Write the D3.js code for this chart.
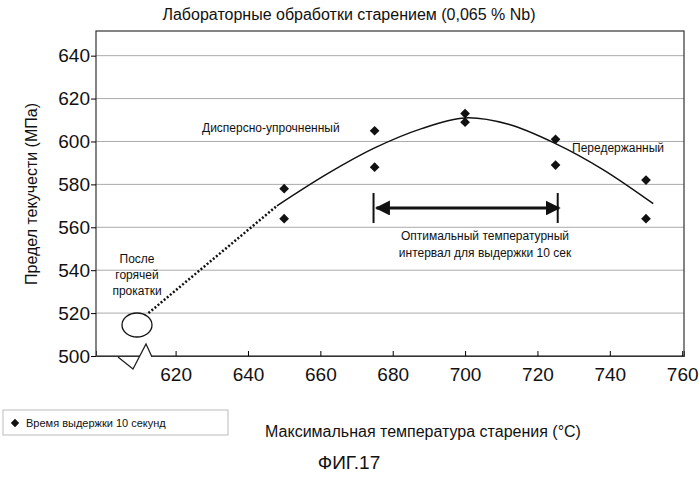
<!DOCTYPE html>
<html><head><meta charset="utf-8">
<script src="https://cdn.jsdelivr.net/npm/d3@7"></script>
<style>body{margin:0;background:#fff}text{font-family:Arial,"Liberation Sans",sans-serif;fill:#111}</style>
</head><body><svg id="c" width="699" height="482"></svg>
<script>
const xTicks = [620, 640, 660, 680, 700, 720, 740, 760];
const yTicks = [500, 520, 540, 560, 580, 600, 620, 640];
const pointTemp = [650, 650, 675, 675, 700, 700, 725, 725, 750, 750];
const pointStress = [578, 564, 605, 588, 613, 609, 601, 589, 582, 564];
const fitTemp = [648, 662, 675, 688, 700, 712, 725, 738, 752];
const fitStress = [570, 585, 597, 606, 611, 608, 599, 587, 571];
const dotTemp = [612.5, 648];
const dotStress = [520, 570];

const svg = d3.select('#c');
const x = d3.scaleLinear().domain([598, 760.5]).range([96, 684]);
const y = d3.scaleLinear().domain([500, 651.5]).range([356, 31]);

// grid
svg.append('g').selectAll('line').data(yTicks.slice(1)).enter().append('line')
  .attr('x1', 96).attr('x2', 684).attr('y1', d => y(d)).attr('y2', d => y(d))
  .attr('stroke', '#aaa').attr('stroke-width', 1);
svg.append('rect').attr('x', 96).attr('y', 31).attr('width', 588).attr('height', 325)
  .attr('fill', 'none').attr('stroke', '#333').attr('stroke-width', 1.2);

const ya = svg.append('g').attr('transform', 'translate(96,0)')
  .call(d3.axisLeft(y).tickValues(yTicks).tickSize(5).tickFormat(d3.format('d')));
ya.select('.domain').remove();
ya.selectAll('text').attr('font-size', 19).attr('dx', 2);
const xa = svg.append('g').attr('transform', 'translate(0,356)')
  .call(d3.axisBottom(x).tickValues(xTicks).tickSize(-5).tickFormat(d3.format('d')));
xa.select('.domain').attr('stroke', '#333');
xa.selectAll('text').attr('font-size', 19).attr('dy', 22);

// axis break
svg.append('path').attr('d', 'M118,357 L133,369 L146,344 L152,357')
  .attr('fill', '#fff').attr('stroke', '#222').attr('stroke-width', 1.3);

// curve
const line = d3.line().x(d => x(d[0])).y(d => y(d[1])).curve(d3.curveCatmullRom);
svg.append('path').datum(fitTemp.map((t, i) => [t, fitStress[i]])).attr('d', line)
  .attr('fill', 'none').attr('stroke', '#111').attr('stroke-width', 1.5);
svg.append('path').datum(dotTemp.map((t, i) => [t, dotStress[i]])).attr('d', d3.line().x(d => x(d[0])).y(d => y(d[1])))
  .attr('fill', 'none').attr('stroke', '#111').attr('stroke-width', 2.5).attr('stroke-dasharray', '2,2');
svg.append('ellipse').attr('cx', 137).attr('cy', 325).attr('rx', 15).attr('ry', 12)
  .attr('fill', '#fff').attr('stroke', '#111').attr('stroke-width', 1.3);

// points
const diamond = d3.symbol().type(d3.symbolDiamond2).size(60);
svg.append('g').selectAll('path').data(pointTemp).enter().append('path')
  .attr('d', diamond).attr('transform', (d, i) => `translate(${x(d)},${y(pointStress[i])})`).attr('fill', '#111');

// optimum arrow
svg.append('defs').html('<marker id="ah" viewBox="0 0 10 10" refX="9" refY="5" markerWidth="5" markerHeight="5" orient="auto-start-reverse"><path d="M0,0L10,5L0,10z" fill="#111"/></marker>');
const ay = y(569);
svg.append('line').attr('x1', x(675.5)).attr('x2', x(726)).attr('y1', ay).attr('y2', ay)
  .attr('stroke', '#111').attr('stroke-width', 3).attr('marker-start', 'url(#ah)').attr('marker-end', 'url(#ah)');
[674.7, 725.6].forEach(t => svg.append('line').attr('x1', x(t)).attr('x2', x(t)).attr('y1', ay - 15).attr('y2', ay + 15)
  .attr('stroke', '#111').attr('stroke-width', 2));

const txt = (s, px, py, fs, anchor) => svg.append('text').attr('x', px).attr('y', py)
  .attr('font-size', fs).attr('text-anchor', anchor || 'start').text(s);
txt('Лабораторные обработки старением (0,065 % Nb)', 349, 20, 16, 'middle');
txt('Дисперсно-упрочненный', 202, 132, 12);
txt('Передержанный', 572, 152, 12);
txt('Оптимальный температурный', 485, 240, 12, 'middle');
txt('интервал для выдержки 10 сек', 485, 257, 12, 'middle');
txt('После', 137, 263, 12, 'middle');
txt('горячей', 137, 279, 12, 'middle');
txt('прокатки', 137, 295, 12, 'middle');
txt('Максимальная температура старения (°C)', 423, 437, 16, 'middle');
txt('ФИГ.17', 349, 469, 19, 'middle');
svg.append('text').attr('transform', 'translate(37,194) rotate(-90)').attr('font-size', 16)
  .attr('text-anchor', 'middle').text('Предел текучести (МПа)');

// legend
svg.append('rect').attr('x', 3).attr('y', 410).attr('width', 225).attr('height', 25)
  .attr('fill', '#fff').attr('stroke', '#bbb');
svg.append('path').attr('d', d3.symbol().type(d3.symbolDiamond2).size(45)).attr('transform', 'translate(15,423)').attr('fill', '#111');
txt('Время выдержки 10 секунд', 26, 427, 11);
</script></body></html>
